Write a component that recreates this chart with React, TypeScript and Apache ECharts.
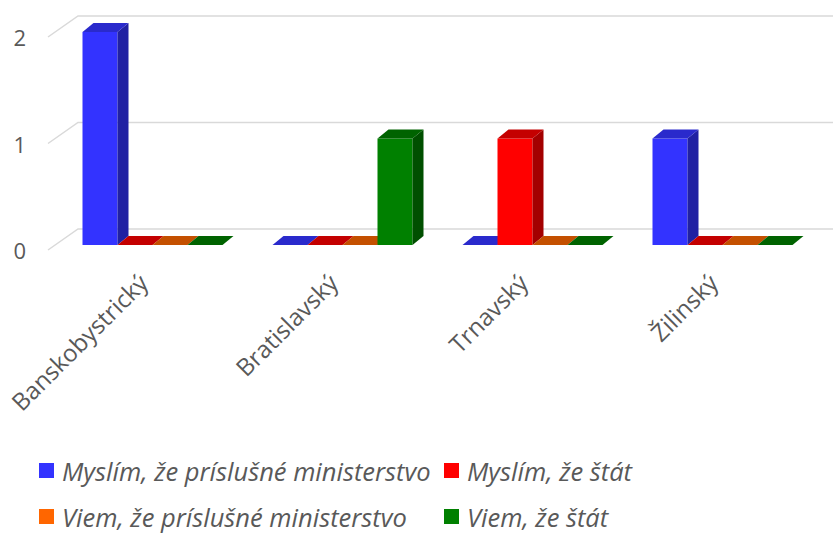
import React, { useEffect, useRef } from "react";
import * as echarts from "echarts";

const categories = ["Banskobystrický", "Bratislavský", "Trnavský", "Žilinský"];
const seriesNames = [
  "Myslím, že príslušné ministerstvo",
  "Myslím, že štát",
  "Viem, že príslušné ministerstvo",
  "Viem, že štát",
];
const mysliMinisterstvo = [2, 0, 0, 1];
const mysliStat = [0, 0, 1, 0];
const viemMinisterstvo = [0, 0, 0, 0];
const viemStat = [0, 1, 0, 0];
const seriesValues = [mysliMinisterstvo, mysliStat, viemMinisterstvo, viemStat];
const yTicks = [0, 1, 2];

const palette = [
  { front: "#3333FF", side: "#2121A3", top: "#2A2ACC" },
  { front: "#FF0000", side: "#A30000", top: "#C40000" },
  { front: "#FF6600", side: "#A34100", top: "#C45000" },
  { front: "#008000", side: "#004F00", top: "#006300" },
];

const TEXT = "#595959";
const FONT = "'Open Sans', 'Noto Sans', sans-serif";
const WALL_DX = 30;
const WALL_DY = -21;
const FRONT_DX = 9.5;
const FRONT_DY = -5;
const DEPTH_DX = 11;
const DEPTH_DY = -9;
const BAR_FRAC = 35 / 190;

export default function App() {
  const ref = useRef<HTMLDivElement>(null);
  useEffect(() => {
    if (!ref.current) return;
    const chart = echarts.init(ref.current, null, { renderer: "svg" });

    const barSeries = seriesNames.map((name, s) => ({
      type: "custom",
      name,
      itemStyle: { color: palette[s].front },
      data: seriesValues[s].map((v, i) => [i, v]),
      renderItem: (params: any, api: any) => {
        const ci = api.value(0);
        const v = api.value(1);
        const base = api.coord([ci, 0]);
        const tp = api.coord([ci, v]);
        const catW = api.size([1, 0])[0];
        const bw = catW * BAR_FRAC;
        const x0 = base[0] + FRONT_DX - 2 * bw + s * bw;
        const yb = base[1] + FRONT_DY;
        const yt = tp[1] + FRONT_DY;
        const c = palette[s];
        const children: any[] = [];
        if (yb - yt > 0.5) {
          children.push({
            type: "rect",
            shape: { x: x0, y: yt, width: bw, height: yb - yt },
            style: { fill: c.front },
          });
          children.push({
            type: "polygon",
            shape: {
              points: [
                [x0 + bw, yt],
                [x0 + bw + DEPTH_DX, yt + DEPTH_DY],
                [x0 + bw + DEPTH_DX, yb + DEPTH_DY],
                [x0 + bw, yb],
              ],
            },
            style: { fill: c.side },
          });
        }
        children.push({
          type: "polygon",
          shape: {
            points: [
              [x0, yt],
              [x0 + DEPTH_DX, yt + DEPTH_DY],
              [x0 + bw + DEPTH_DX, yt + DEPTH_DY],
              [x0 + bw, yt],
            ],
          },
          style: { fill: c.top },
        });
        return { type: "group", children };
      },
    }));

    const gridSeries = {
      type: "custom",
      name: "grid",
      silent: true,
      data: yTicks.map((t) => [0, t]),
      renderItem: (params: any, api: any) => {
        const y = api.coord([0, api.value(1)])[1];
        const left = params.coordSys.x;
        const right = params.coordSys.x + params.coordSys.width;
        return {
          type: "polyline",
          shape: {
            points: [
              [left, y],
              [left + WALL_DX, y + WALL_DY],
              [right + WALL_DX, y + WALL_DY],
            ],
          },
          style: { stroke: "#D9D9D9", lineWidth: 1.5, fill: null },
        };
      },
    };

    const legendPos = [
      { left: 39, top: 457.5 },
      { left: 444, top: 457.5 },
      { left: 39, top: 503.5 },
      { left: 444, top: 503.5 },
    ];

    chart.setOption({
      animation: false,
      grid: { left: 48, top: 37, width: 760, height: 213, containLabel: false },
      xAxis: {
        type: "category",
        data: categories,
        axisLine: { show: false },
        axisTick: { show: false },
        axisLabel: {
          rotate: 45,
          margin: 28,
          color: TEXT,
          fontSize: 24,
          fontFamily: FONT,
          interval: 0,
        },
      },
      yAxis: {
        type: "value",
        min: 0,
        max: 2,
        interval: 1,
        splitLine: { show: false },
        axisLine: { show: false },
        axisTick: { show: false },
        axisLabel: { color: TEXT, fontSize: 22, fontFamily: FONT, margin: 22 },
      },
      legend: seriesNames.map((n, i) => ({
        data: [n],
        left: legendPos[i].left,
        top: legendPos[i].top,
        padding: 0,
        itemWidth: 15,
        itemHeight: 15,
        icon: "rect",
        selectedMode: false,
        textStyle: {
          color: TEXT,
          fontSize: 25.5,
          lineHeight: 25,
          fontStyle: "italic",
          fontFamily: FONT,
          padding: [0, 0, 0, 3],
        },
      })),
      series: [gridSeries, ...barSeries],
    });
    return () => chart.dispose();
  }, []);
  return (
    <div
      ref={ref}
      style={{ position: "absolute", left: 0, top: 0, width: 833, height: 534, background: "#fff" }}
    />
  );
}
